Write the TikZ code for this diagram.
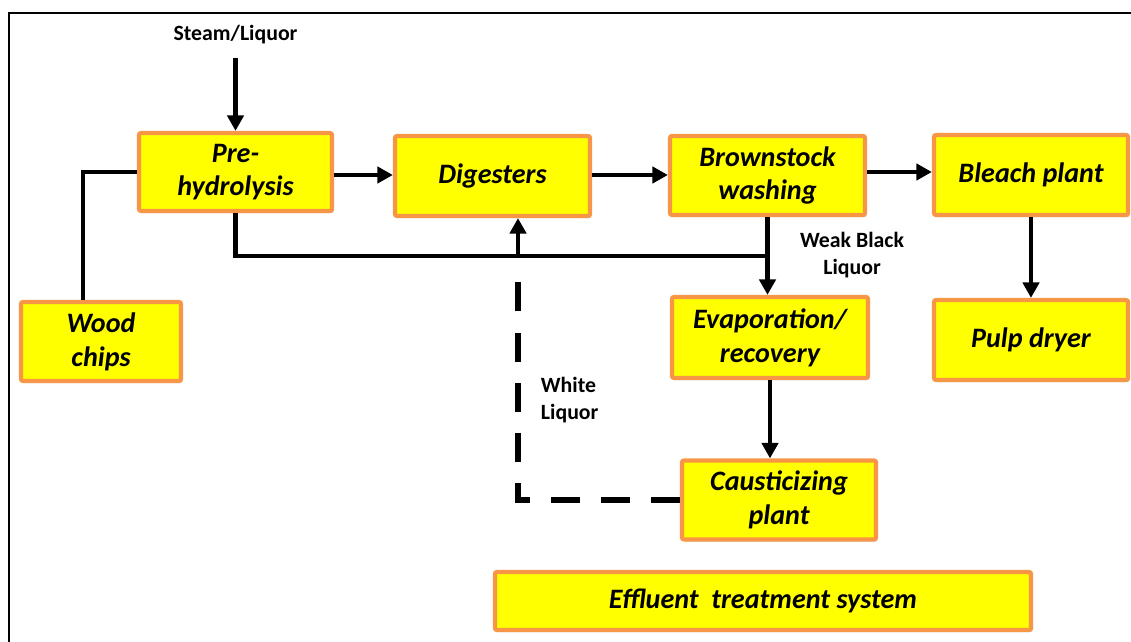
\documentclass[tikz,border=0pt]{standalone}
\usepackage{fontspec}
\setmainfont{Carlito}
\usetikzlibrary{arrows.meta,shadows,calc}

\definecolor{boxfill}{HTML}{FFFF00}
\definecolor{boxline}{HTML}{F79646}

\tikzset{
  unit/.style={draw=boxline, fill=boxfill, line width=3pt, rounded corners=1.5pt,
    align=center, inner sep=2pt,
    font=\fontsize{20}{24}\selectfont\bfseries\itshape,
    drop shadow={opacity=0.3, shadow xshift=1pt, shadow yshift=-1.5pt, fill=black!60}},
  flow/.style={line width=3.4pt, -{Triangle[length=11pt,width=11.5pt]}},
  pipe/.style={line width=3.4pt},
  ret/.style={line width=4.2pt, dash pattern=on 20.6pt off 15pt},
  tag/.style={font=\fontsize{15.5}{19}\selectfont\bfseries, align=center},
}

\begin{document}
\begin{tikzpicture}[x=0.025cm, y=-0.025cm]
	  \useasboundingbox (0,0) rectangle (1131,642);
	  \clip (0,0) rectangle (1131,642);
	  \draw [ line width=1.8pt ] (9,13) rectangle (1160,680);

	  % process units
	  \node [ unit, minimum width=4.825cm, minimum height=1.95cm ] (pre) at (235.5,172) {Pre-\\hydrolysis};
	  \node [ unit, minimum width=4.875cm, minimum height=2cm ] (dig) at (492.5,176) {Digesters};
	  \node [ unit, minimum width=4.875cm, minimum height=1.975cm ] (brown) at (767.5,175.5) {Brownstock\\washing};
	  \node [ unit, minimum width=4.85cm, minimum height=2cm ] (bleach) at (1031,175) {Bleach plant};
	  \node [ unit, minimum width=4.85cm, minimum height=2cm ] (pulp) at (1031,340) {Pulp dryer};
	  \node [ unit, minimum width=4cm, minimum height=1.975cm ] (wood) at (101,341.5) {Wood\\chips};
	  \node [ unit, minimum width=4.9cm, minimum height=2.025cm ] (evap) at (770,337.5) {Evaporation/\\recovery};
	  \node [ unit, minimum width=4.85cm, minimum height=1.975cm ] (caus) at (779,500) {Causticizing\\plant};
	  \node [ unit, minimum width=13.4cm, minimum height=1.45cm ] (eff) at (763,601) {Effluent\ \ treatment system};

	  % stream labels
	  \node [ tag ] (steam) at (235.5,35) {Steam/Liquor};
	  \node [ tag ] (weak) at (852,255) {Weak Black\\Liquor};
	  \node [ tag, align=left, anchor=west ] (white) at (536,400) {White\\Liquor};

	  \coordinate (junc) at (768,256);
	  \coordinate (wl) at (518,256);
	  \coordinate (wltop) at (518,279);

	  % main line
	  \draw [ flow, shorten <=6pt ] (steam.south) -- (pre.north);
	  \draw [ pipe ] ($(wood.north)+(-18,0)$) |- (pre.west);
	  \draw [ flow ] (pre.east |- 0,175) -- (dig.west |- 0,175);
	  \draw [ flow ] (dig.east |- 0,175) -- (brown.west |- 0,175);
	  \draw [ flow ] (brown.east |- 0,172) -- (bleach.west |- 0,172);
	  \draw [ flow ] (bleach.south) -- (pulp.north);

	  % liquor loop
	  \draw [ pipe ] (pre.south) |- (junc);
	  \draw [ flow ] (brown.south) -- (brown.south |- evap.north);
	  \draw [ flow ] (evap.south) -- (evap.south |- caus.north);
	  \draw [ flow ] (wl) -- (wl |- dig.south);
	  \draw [ ret ] (caus.west) -| (wltop);
\end{tikzpicture}
\end{document}
